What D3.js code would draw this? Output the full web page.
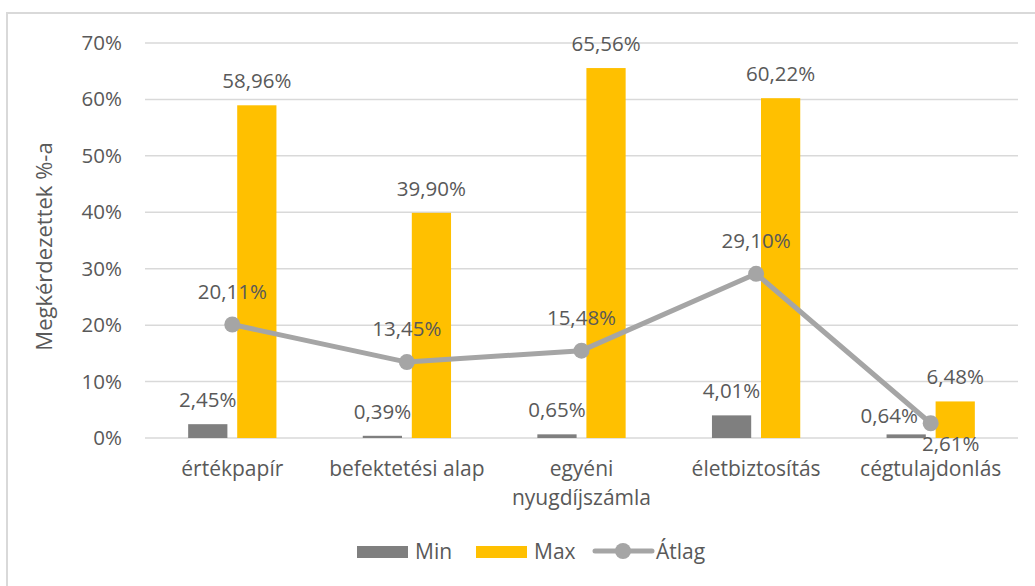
<!DOCTYPE html>
<html>
<head>
<meta charset="utf-8">
<script src="https://cdn.jsdelivr.net/npm/d3@7"></script>
<style>
  body { margin: 0; background: #fff; }
  svg text { font-family: "Open Sans", sans-serif; fill: #595959; }
</style>
</head>
<body>
<svg id="chart" width="1035" height="586"></svg>
<script>
const categories = [["értékpapír"], ["befektetési alap"], ["egyéni", "nyugdíjszámla"], ["életbiztosítás"], ["cégtulajdonlás"]];
const minValues = [2.45, 0.39, 0.65, 4.01, 0.64];
const maxValues = [58.96, 39.90, 65.56, 60.22, 6.48];
const avgValues = [20.11, 13.45, 15.48, 29.10, 2.61];
const yTicks = [0, 10, 20, 30, 40, 50, 60, 70];
const seriesNames = ["Min", "Max", "Átlag"];

const colors = { min: "#7f7f7f", max: "#ffc000", avg: "#a5a5a5" };
const fmt = v => v.toFixed(2).replace(".", ",") + "%";

const svg = d3.select("#chart");

// outer border
svg.append("rect")
  .attr("x", 7).attr("y", 13)
  .attr("width", 1060).attr("height", 620)
  .attr("fill", "none").attr("stroke", "#d9d9d9").attr("stroke-width", 2);

const plotLeft = 145, plotRight = 1018, plotTop = 43, plotBottom = 438;
const keys = categories.map((c, i) => i);

const x = d3.scaleBand().domain(keys).range([plotLeft, plotRight]);
const xInner = d3.scaleBand().domain(["min", "max"]).range([0, x.bandwidth()]).paddingInner(0.2).paddingOuter(0.88);
const y = d3.scaleLinear().domain([0, 70]).range([plotBottom, plotTop]);

// gridlines
svg.append("g").selectAll("line")
  .data(yTicks).enter().append("line")
  .attr("x1", plotLeft).attr("x2", plotRight)
  .attr("y1", d => y(d)).attr("y2", d => y(d))
  .attr("stroke", "#d9d9d9").attr("stroke-width", 1.5);

// y tick labels
svg.append("g").selectAll("text")
  .data(yTicks).enter().append("text")
  .attr("x", 122).attr("y", d => y(d) + 7)
  .attr("text-anchor", "end")
  .attr("font-size", 20.5)
  .text(d => d + "%");

// y title
svg.append("text")
  .attr("transform", `translate(52,${(plotTop + plotBottom) / 2 + 6}) rotate(-90)`)
  .attr("text-anchor", "middle")
  .attr("font-size", 22)
  .text("Megkérdezettek %-a");

// bars
const groups = svg.append("g").selectAll("g")
  .data(keys).enter().append("g")
  .attr("transform", d => `translate(${x(d)},0)`);

groups.append("rect")
  .attr("x", xInner("min")).attr("width", xInner.bandwidth())
  .attr("y", d => y(minValues[d])).attr("height", d => plotBottom - y(minValues[d]))
  .attr("fill", colors.min);

groups.append("rect")
  .attr("x", xInner("max")).attr("width", xInner.bandwidth())
  .attr("y", d => y(maxValues[d])).attr("height", d => plotBottom - y(maxValues[d]))
  .attr("fill", colors.max);

// bar labels
groups.append("text")
  .attr("x", d => xInner("min") + xInner.bandwidth() / 2 + (d === 4 ? -17 : 0))
  .attr("y", d => y(minValues[d]) - (d === 4 ? 11 : 17))
  .attr("text-anchor", "middle").attr("font-size", 20.5)
  .text(d => fmt(minValues[d]));

groups.append("text")
  .attr("x", xInner("max") + xInner.bandwidth() / 2)
  .attr("y", d => y(maxValues[d]) - 17)
  .attr("text-anchor", "middle").attr("font-size", 20.5)
  .text(d => fmt(maxValues[d]));

// average line
const cx = d => x(d) + x.bandwidth() / 2;
const line = d3.line().x(d => cx(d)).y(d => y(avgValues[d]));
svg.append("path")
  .datum(keys)
  .attr("d", line)
  .attr("fill", "none").attr("stroke", colors.avg)
  .attr("stroke-width", 5).attr("stroke-linejoin", "round");

svg.append("g").selectAll("circle")
  .data(keys).enter().append("circle")
  .attr("cx", cx).attr("cy", d => y(avgValues[d]))
  .attr("r", 8).attr("fill", colors.avg);

svg.append("g").selectAll("text")
  .data(keys).enter().append("text")
  .attr("x", d => cx(d) + (d === 4 ? 20 : 0))
  .attr("y", d => y(avgValues[d]) + (d === 4 ? 28 : -26))
  .attr("text-anchor", "middle").attr("font-size", 20.5)
  .text(d => fmt(avgValues[d]));

// category labels
const catLabels = svg.append("g").selectAll("text")
  .data(keys).enter().append("text")
  .attr("text-anchor", "middle").attr("font-size", 21);
catLabels.selectAll("tspan")
  .data(d => categories[d].map(t => ({ t, c: d })))
  .enter().append("tspan")
  .attr("x", d => cx(d.c))
  .attr("y", (d, i) => 476 + i * 29)
  .text(d => d.t);

// legend
const legend = svg.append("g");
const legendItems = [
  { name: seriesNames[0], type: "bar", color: colors.min, x: 357 },
  { name: seriesNames[1], type: "bar", color: colors.max, x: 476 },
  { name: seriesNames[2], type: "line", color: colors.avg, x: 595 }
];
legendItems.forEach(it => {
  const g = legend.append("g").attr("transform", `translate(${it.x},0)`);
  if (it.type === "bar") {
    g.append("rect").attr("x", 0).attr("y", 546).attr("width", 51).attr("height", 12).attr("fill", it.color);
    g.append("text").attr("x", 58).attr("y", 559).attr("font-size", 21).text(it.name);
  } else {
    g.append("line").attr("x1", 0).attr("x2", 57).attr("y1", 551).attr("y2", 551)
      .attr("stroke", it.color).attr("stroke-width", 5).attr("stroke-linecap", "round");
    g.append("circle").attr("cx", 28).attr("cy", 551).attr("r", 8).attr("fill", it.color);
    g.append("text").attr("x", 61).attr("y", 559).attr("font-size", 21).text(it.name);
  }
});
</script>
</body>
</html>
